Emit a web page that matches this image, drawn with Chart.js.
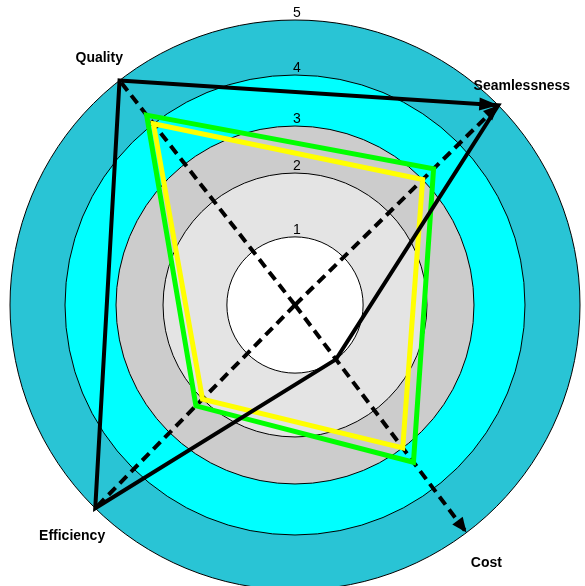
<!DOCTYPE html>
<html>
<head>
<meta charset="utf-8">
<title>Quality / Seamlessness / Cost / Efficiency</title>
<script src="https://cdn.jsdelivr.net/npm/chart.js"></script>
<style>
  html, body { margin: 0; padding: 0; background: #ffffff; overflow: hidden; }
  #wrap { width: 585px; height: 586px; overflow: hidden; }
  #chart { display: block; }
</style>
</head>
<body>
<div id="wrap"><canvas id="chart" width="585" height="590"></canvas></div>
<script>
// ---- data -------------------------------------------------------------
const axes = ['Quality', 'Seamlessness', 'Cost', 'Efficiency'];
const levels = [1, 2, 3, 4, 5];               // ring tick labels
const baseline = [5, 5, 1, 5];                // black outline
const target = [4, 3, 3, 2];                  // yellow outline
const achieved = [4.2, 3.3, 3.35, 2.2];       // green outline

// ---- scale geometry / styling ----------------------------------------
// Direction of each spoke, degrees clockwise from 12 o'clock.
const spokeAngles = [-38, 45.5, 143, 224.5];
// Radius of each ring (levels 0..5) as a fraction of the outer ring.
const ringFractions = [0, 0.239, 0.463, 0.628, 0.807, 1];
// Fill of the band that ends at each level (1..5).
const bandColors = ['#FFFFFF', '#E4E4E4', '#CCCCCC', '#00FFFF', '#29C4D5'];

const FONT = "'Liberation Sans', Arial, Helvetica, sans-serif";

// Radial scale with hand-set spoke directions and uneven ring spacing.
class RingRadialScale extends Chart.RadialLinearScale {
  static id = 'ringRadial';

  getIndexAngle(index) {
    const deg = ((spokeAngles[index] % 360) + 360) % 360;
    return deg * Math.PI / 180;
  }

  getDistanceFromCenterForValue(value) {
    if (value === null || value === undefined || isNaN(value)) return NaN;
    const v = Math.max(0, Math.min(5, value));
    const lo = Math.min(Math.floor(v), 4);
    const t = v - lo;
    const f = ringFractions[lo] + (ringFractions[lo + 1] - ringFractions[lo]) * t;
    return this.drawingArea * f;
  }
}
Chart.register(RingRadialScale);

// Filled concentric bands behind the grid.
const ringBands = {
  id: 'ringBands',
  beforeDraw(chart) {
    const s = chart.scales.r;
    const ctx = chart.ctx;
    ctx.save();
    for (let i = levels.length - 1; i >= 0; i--) {
      ctx.beginPath();
      ctx.arc(s.xCenter, s.yCenter, s.getDistanceFromCenterForValue(levels[i]), 0, Math.PI * 2);
      ctx.fillStyle = bandColors[i];
      ctx.fill();
    }
    ctx.restore();
  }
};

function arrowHead(ctx, fx, fy, tx, ty, len, half) {
  const a = Math.atan2(ty - fy, tx - fx);
  ctx.save();
  ctx.translate(tx, ty);
  ctx.rotate(a);
  ctx.beginPath();
  ctx.moveTo(0, 0);
  ctx.lineTo(-len, -half);
  ctx.lineTo(-len, half);
  ctx.closePath();
  ctx.fillStyle = '#000';
  ctx.fill();
  ctx.restore();
}

// Arrowheads, ring numbers and spoke names.
const overlays = {
  id: 'overlays',
  afterDatasetsDraw(chart) {
    const s = chart.scales.r;
    const ctx = chart.ctx;
    const R = s.drawingArea;

    // arrowheads on the Seamlessness and Cost spokes
    [1, 2].forEach(i => {
      const p = s.getPointPosition(i, R);
      arrowHead(ctx, s.xCenter, s.yCenter, p.x, p.y, 15, 6.5);
    });

    // arrowhead at the end of the black Quality -> Seamlessness edge
    const pts = chart.getDatasetMeta(0).data;
    arrowHead(ctx, pts[0].x, pts[0].y, pts[1].x, pts[1].y, 19, 6.5);

    // ring numbers just above each circle
    ctx.save();
    ctx.font = '14px ' + FONT;
    ctx.fillStyle = '#000';
    ctx.textAlign = 'center';
    ctx.textBaseline = 'alphabetic';
    s.ticks.forEach(t => {
      if (t.value <= 0) return;
      const d = s.getDistanceFromCenterForValue(t.value);
      ctx.fillText(String(t.value), s.xCenter + 2, s.yCenter - d - 3);
    });

    // spoke names
    ctx.font = 'bold 14px ' + FONT;
    ctx.textBaseline = 'middle';
    chart.data.labels.forEach((lab, i) => {
      const p = s.getPointPosition(i, R + 33);
      ctx.fillText(lab, p.x, p.y + 4);
    });
    ctx.restore();
  }
};

new Chart(document.getElementById('chart'), {
  type: 'radar',
  data: {
    labels: axes,
    datasets: [
      { label: 'Baseline', data: baseline, borderColor: '#000000', borderWidth: 4 },
      { label: 'Target', data: target, borderColor: '#FFFF00', borderWidth: 5 },
      { label: 'Achieved', data: achieved, borderColor: '#00FF00', borderWidth: 5 }
    ]
  },
  options: {
    responsive: false,
    animation: false,
    events: [],
    layout: { padding: { left: 10, right: 5, top: 20, bottom: 0 } },
    elements: {
      line: { fill: false, tension: 0, borderJoinStyle: 'miter' },
      point: { radius: 0, hoverRadius: 0 }
    },
    plugins: { legend: { display: false }, tooltip: { enabled: false } },
    scales: {
      r: {
        type: 'ringRadial',
        min: 0,
        max: 5,
        ticks: { stepSize: 1, display: false },
        pointLabels: { display: false },
        grid: { circular: true, color: '#000000', lineWidth: 1 },
        angleLines: { display: true, color: '#000000', lineWidth: 4, borderDash: [10, 6] }
      }
    }
  },
  plugins: [ringBands, overlays]
});
</script>
</body>
</html>
